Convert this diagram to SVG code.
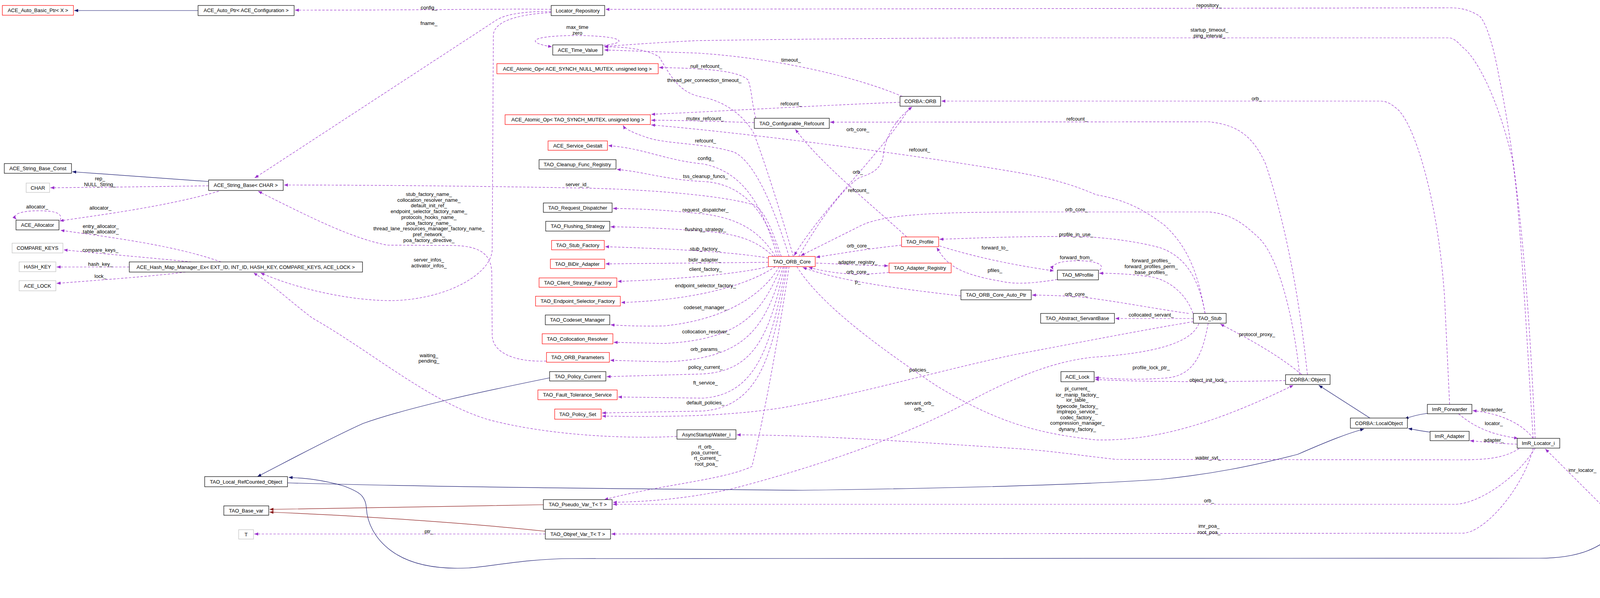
<svg xmlns="http://www.w3.org/2000/svg" width="4216" height="1532" viewBox="0 0 4216 1532">
<style>
text{font-family:"Liberation Sans",Arial,sans-serif;font-size:13px;fill:#000}
.n text{text-anchor:middle}
.l text{text-anchor:middle}
rect{fill:#fff;stroke:#000;stroke-width:1.2}
.r rect{stroke:#f00}
.g rect{stroke:#bfbfbf}
#n_ins rect{fill:#bfbfbf}
.u{fill:none;stroke:#9a32cd;stroke-width:1.2;stroke-dasharray:6,4;marker-end:url(#ap)}
.i{fill:none;stroke:#191970;stroke-width:1.2;marker-end:url(#an)}
.p{fill:none;stroke:#8b1a1a;stroke-width:1.2;marker-end:url(#ar)}
</style>
<defs>
<marker id="ap" viewBox="0 0 10 8" refX="10" refY="4" markerWidth="10" markerHeight="8" markerUnits="userSpaceOnUse" orient="auto"><path d="M0,0L10,4L0,8z" fill="#9a32cd"/></marker>
<marker id="an" viewBox="0 0 10 8" refX="10" refY="4" markerWidth="10" markerHeight="8" markerUnits="userSpaceOnUse" orient="auto"><path d="M0,0L10,4L0,8z" fill="#191970"/></marker>
<marker id="ar" viewBox="0 0 10 8" refX="10" refY="4" markerWidth="10" markerHeight="8" markerUnits="userSpaceOnUse" orient="auto"><path d="M0,0L10,4L0,8z" fill="#8b1a1a"/></marker>
</defs>
<rect x="0" y="0" width="4216" height="1532" style="fill:#fff;stroke:none"/>
<g id="edges">
<path class="i" d="M507,27 L190,27"/>
<path class="u" d="M1411,24 C1300,22 1100,26 755,26"/>
<path class="u" d="M1411,30 C1340,28 1290,38 1270,52 L652,456"/>
<path class="i" d="M534,465 L185,440"/>
<path class="u" d="M534,476 C400,478 250,480 129,481"/>
<path class="u" d="M560,490 C420,530 260,550 153,566"/>
<path class="u" d="M154,564 C160,550 150,540 100,540 C50,540 30,550 42,562"/>
<path class="u" d="M566,671 C450,630 300,610 155,590"/>
<path class="u" d="M490,671 C380,660 260,650 163,640"/>
<path class="u" d="M331,684 L145,684"/>
<path class="u" d="M475,697 C400,707 250,718 145,726"/>
<path class="u" d="M2000,657 C1980,600 1960,540 1930,525 C1850,500 1650,485 1500,482 C1300,478 1000,474 727,474"/>
<path class="u" d="M1399,925 C1320,928 1262,905 1260,860 L1259,700 C1258,660 1240,630 1161,629 L991,628 C900,610 800,560 661,490"/>
<path class="u" d="M1411,32 C1340,36 1265,50 1263,90 L1260,640 C1258,700 1150,765 1010,770 C900,772 760,740 667,699"/>
<path class="u" d="M1733,1118 C1600,1125 1400,1115 1250,1075 C1100,1030 950,900 800,815 C740,770 700,730 649,699"/>
<path class="u" d="M1935,303 C1925,270 1925,230 1915,205 C1890,180 1800,175 1687,173"/>
<path class="u" d="M2031,657 C2000,550 1960,420 1929,340 C1900,290 1850,260 1804,250 C1740,240 1720,200 1687,145 C1650,125 1600,120 1547,120"/>
<path class="u" d="M2310,247 C2200,200 2000,150 1786,136 L1547,128"/>
<path class="u" d="M1545,116 C1610,110 1600,92 1478,91 C1360,91 1340,108 1413,120"/>
<path class="u" d="M2304,262 C2100,270 1900,282 1667,293"/>
<path class="u" d="M1931,314 C1850,312 1750,308 1667,308"/>
<path class="u" d="M2020,657 C1990,560 1940,420 1880,390 C1800,365 1700,370 1650,350 C1620,340 1600,330 1595,321"/>
<path class="u" d="M3085,803 C3070,720 3050,640 2981,577 C2920,530 2870,510 2806,499 C2740,470 2680,455 2600,441 C2300,390 1900,340 1667,320"/>
<path class="u" d="M2045,657 C2100,560 2160,480 2200,455 C2250,440 2260,420 2262,390 C2270,340 2300,300 2335,274"/>
<path class="u" d="M2330,274 C2250,400 2100,540 2033,655"/>
<path class="u" d="M2321,607 C2250,540 2100,420 2036,331"/>
<path class="u" d="M1990,657 C1950,520 1900,440 1800,420 C1700,410 1650,380 1557,373"/>
<path class="u" d="M1995,657 C1960,540 1900,470 1800,465 C1700,460 1650,440 1579,434"/>
<path class="u" d="M1985,657 C1950,600 1900,560 1800,548 C1700,538 1650,535 1569,534"/>
<path class="u" d="M1980,657 C1940,620 1900,600 1800,592 C1700,585 1640,582 1563,581"/>
<path class="u" d="M1967,661 C1900,650 1800,640 1549,632"/>
<path class="u" d="M1967,672 L1550,676"/>
<path class="u" d="M1967,683 C1900,700 1750,715 1581,721"/>
<path class="u" d="M1985,683 C1900,740 1750,770 1590,775"/>
<path class="u" d="M1995,683 C1950,760 1850,820 1700,835 C1650,836 1600,835 1563,832"/>
<path class="u" d="M2000,683 C1950,800 1900,870 1700,880 L1571,877"/>
<path class="u" d="M2005,683 C1960,830 1920,920 1700,927 L1562,923"/>
<path class="u" d="M2008,683 C1970,860 1930,950 1800,958 L1553,965"/>
<path class="u" d="M2012,683 C1975,880 1940,1010 1800,1020 L1582,1017"/>
<path class="u" d="M2015,683 C1980,900 1950,1040 1800,1053 L1541,1058"/>
<path class="u" d="M2020,683 C1995,850 1960,1050 1925,1195 C1850,1230 1700,1240 1547,1280"/>
<path class="u" d="M3055,824 C2900,850 2750,880 2600,908 C2400,950 2200,1010 2000,1045 C1850,1068 1700,1068 1541,1066"/>
<path class="u" d="M2040,683 C2100,780 2250,890 2400,990 C2550,1080 2650,1110 2806,1127 C2950,1130 3100,1090 3311,987"/>
<path class="u" d="M3069,829 C3050,880 2950,905 2800,915 C2700,925 2600,965 2482,1028 C2350,1100 2150,1180 1875,1252 C1750,1280 1650,1285 1569,1287"/>
<path class="u" d="M3930,1148 C3880,1230 3780,1292 3724,1292 L1569,1292"/>
<path class="u" d="M3925,1148 C3900,1250 3800,1366 3744,1366 L1565,1368"/>
<path class="u" d="M1396,1368 L651,1368"/>
<path class="p" d="M1396,1361 C1200,1340 900,1320 690,1312"/>
<path class="p" d="M1391,1293 C1200,1296 900,1302 690,1305"/>
<path class="i" d="M4141,1361 C4100,1400 4050,1430 3940,1430 L1464,1431 C1350,1431 1250,1452 1200,1455 C1100,1460 1040,1440 1000,1410 C960,1380 940,1340 938,1302 C936,1270 920,1260 880,1245 C820,1228 780,1225 739,1223"/>
<path class="i" d="M736,1237 C1000,1245 1400,1251 2054,1256 C2500,1250 2800,1240 2971,1228 C3100,1215 3200,1195 3322,1164 C3400,1130 3450,1110 3492,1099"/>
<path class="i" d="M1407,968 C1250,1000 1054,1041 929,1085 C830,1130 720,1190 659,1221"/>
<path class="i" d="M3507,1071 L3376,987"/>
<path class="i" d="M3654,1059 C3630,1062 3610,1068 3596,1073"/>
<path class="i" d="M3661,1107 C3640,1105 3620,1100 3605,1098"/>
<path class="u" d="M3925,1123 C3900,1090 3850,1060 3770,1052"/>
<path class="u" d="M3734,1060 C3780,1100 3830,1115 3886,1123"/>
<path class="u" d="M3884,1138 C3830,1136 3800,1132 3763,1129"/>
<path class="u" d="M4141,1335 L3956,1150"/>
<path class="u" d="M3889,1149 C3850,1175 3800,1178 3734,1178 L2858,1177 C2750,1165 2700,1156 2600,1149 C2300,1130 2100,1115 1886,1114"/>
<path class="u" d="M3930,1123 C3920,900 3900,500 3837,194 C3820,100 3800,50 3786,40 C3760,25 3740,20 3713,20 L1550,24"/>
<path class="u" d="M3925,1123 C3910,900 3890,500 3870,400 C3820,200 3760,130 3744,121 C3730,105 3720,97 3708,97 L2650,97 C2200,97 1800,104 1786,104 C1700,108 1600,115 1547,119"/>
<path class="u" d="M3711,1036 L3698,760 C3680,500 3620,320 3579,281 C3560,265 3550,259 3533,259 L2410,259"/>
<path class="u" d="M3347,960 C3330,800 3300,600 3240,420 C3208,350 3170,320 3095,312 L2125,313"/>
<path class="u" d="M3327,960 C3310,800 3270,650 3219,606 C3180,570 3150,548 3095,543 L2650,543 C2400,543 2259,548 2200,580 C2120,620 2080,640 2050,655"/>
<path class="u" d="M2308,628 C2200,640 2150,650 2089,659"/>
<path class="u" d="M2089,674 C2150,676 2200,680 2274,681"/>
<path class="u" d="M2276,698 C2200,705 2150,705 2070,685"/>
<path class="u" d="M2460,758 C2300,740 2150,720 2055,685"/>
<path class="u" d="M3043,803 C2950,790 2850,770 2760,760 C2700,757 2670,756 2642,756"/>
<path class="u" d="M3085,803 C3070,720 3040,660 2971,635 C2900,615 2800,606 2755,606 C2600,605 2500,610 2405,613"/>
<path class="u" d="M2707,716 C2650,725 2600,730 2560,720 C2440,700 2420,670 2398,634"/>
<path class="u" d="M2405,630 C2500,660 2600,680 2698,694"/>
<path class="u" d="M2815,692 C2830,680 2810,668 2760,668 C2710,668 2690,678 2696,691"/>
<path class="u" d="M3054,803 C3040,760 3000,720 2950,710 C2900,702 2850,700 2814,700"/>
<path class="u" d="M3055,816 L2855,816"/>
<path class="u" d="M3093,828 C3080,900 3060,960 2990,968 C2900,975 2850,970 2803,967"/>
<path class="u" d="M3291,975 C3150,978 2950,980 2803,972"/>
<path class="u" d="M3332,959 C3260,900 3180,860 3124,830"/>
</g>
<g class="l">
<text x="1098" y="24">config_</text>
<text x="1098" y="64">fname_</text>
<text x="256" y="462">rep_</text><text x="256" y="477">NULL_String_</text>
<text x="257" y="537">allocator_</text>
<text x="95" y="534">allocator_</text>
<text x="258" y="584">entry_allocator_</text><text x="258" y="598">table_allocator_</text>
<text x="257" y="645">compare_keys_</text>
<text x="257" y="681">hash_key_</text>
<text x="257" y="712">lock_</text>
<text x="1478" y="477">server_id_</text>
<text x="1098" y="502">stub_factory_name_</text>
<text x="1098" y="517">collocation_resolver_name_</text>
<text x="1098" y="531">default_init_ref_</text>
<text x="1098" y="546">endpoint_selector_factory_name_</text>
<text x="1098" y="561">protocols_hooks_name_</text>
<text x="1098" y="576">poa_factory_name_</text>
<text x="1098" y="590">thread_lane_resources_manager_factory_name_</text>
<text x="1098" y="605">pref_network_</text>
<text x="1098" y="620">poa_factory_directive_</text>
<text x="1098" y="670">server_infos_</text><text x="1098" y="685">activator_infos_</text>
<text x="1098" y="915">waiting_</text><text x="1098" y="929">pending_</text>
<text x="1808" y="174">null_refcount_</text>
<text x="1803" y="210">thread_per_connection_timeout_</text>
<text x="2025" y="158">timeout_</text>
<text x="1478" y="74">max_time</text><text x="1478" y="89">zero</text>
<text x="2025" y="270">refcount_</text>
<text x="1805" y="308">mutex_refcount_</text>
<text x="1806" y="365">refcount_</text>
<text x="2354" y="388">refcount_</text>
<text x="2196" y="445">orb_</text>
<text x="2196" y="336">orb_core_</text>
<text x="2198" y="492">refcount_</text>
<text x="1807" y="410">config_</text>
<text x="1806" y="456">tss_cleanup_funcs_</text>
<text x="1806" y="542">request_dispatcher_</text>
<text x="1806" y="592">flushing_strategy_</text>
<text x="1805" y="642">stub_factory_</text>
<text x="1804" y="670">bidir_adapter_</text>
<text x="1806" y="694">client_factory_</text>
<text x="1806" y="736">endpoint_selector_factory_</text>
<text x="1806" y="792">codeset_manager_</text>
<text x="1807" y="854">collocation_resolver_</text>
<text x="1806" y="899">orb_params_</text>
<text x="1806" y="945">policy_current_</text>
<text x="1806" y="985">ft_service_</text>
<text x="1806" y="1036">default_policies_</text>
<text x="1808" y="1149">rt_orb_</text><text x="1808" y="1164">poa_current_</text><text x="1808" y="1178">rt_current_</text><text x="1808" y="1193">root_poa_</text>
<text x="2353" y="952">policies_</text>
<text x="2758" y="1000">pi_current_</text><text x="2758" y="1016">ior_manip_factory_</text><text x="2758" y="1029">ior_table_</text><text x="2758" y="1045">typecode_factory_</text><text x="2758" y="1059">implrepo_service_</text><text x="2758" y="1074">codec_factory_</text><text x="2758" y="1088">compression_manager_</text><text x="2758" y="1104">dynany_factory_</text>
<text x="2353" y="1037">servant_orb_</text><text x="2353" y="1052">orb_</text>
<text x="3095" y="1287">orb_</text>
<text x="3095" y="1352">imr_poa_</text><text x="3095" y="1368">root_poa_</text>
<text x="1098" y="1366">ptr_</text>
<text x="3823" y="1054">forwarder_</text>
<text x="3824" y="1089">locator_</text>
<text x="3824" y="1132">adapter_</text>
<text x="4051" y="1209">imr_locator_</text>
<text x="3093" y="1177">waiter_svt_</text>
<text x="3095" y="18">repository_</text>
<text x="3096" y="81">startup_timeout_</text><text x="3096" y="96">ping_interval_</text>
<text x="3217" y="257">orb_</text>
<text x="2757" y="309">refcount_</text>
<text x="2756" y="541">orb_core_</text>
<text x="2197" y="634">orb_core_</text>
<text x="2196" y="676">adapter_registry_</text>
<text x="2196" y="701">orb_core_</text>
<text x="2196" y="726">p_</text>
<text x="2755" y="758">orb_core_</text>
<text x="2755" y="605">profile_in_use_</text>
<text x="2547" y="697">pfiles_</text>
<text x="2547" y="639">forward_to_</text>
<text x="2755" y="664">forward_from_</text>
<text x="2947" y="672">forward_profiles_</text><text x="2947" y="687">forward_profiles_perm_</text><text x="2947" y="702">base_profiles_</text>
<text x="2947" y="811">collocated_servant_</text>
<text x="2947" y="946">profile_lock_ptr_</text>
<text x="3093" y="978">object_init_lock_</text>
<text x="3218" y="861">protocol_proxy_</text>
</g>
<g class="n r" id="n_auto_basic"><rect x="6" y="14" width="182" height="25"/><text x="97" y="31">ACE_Auto_Basic_Ptr&lt; X &gt;</text></g>
<g class="n" id="n_auto_ptr"><rect x="507" y="14" width="246" height="26"/><text x="630" y="31">ACE_Auto_Ptr&lt; ACE_Configuration &gt;</text></g>
<g class="n" id="n_sbc"><rect x="11" y="419" width="172" height="25"/><text x="97" y="436">ACE_String_Base_Const</text></g>
<g class="n" id="n_sb"><rect x="534" y="461" width="191" height="27"/><text x="629" y="479">ACE_String_Base&lt; CHAR &gt;</text></g>
<g class="n g" id="n_char"><rect x="67" y="469" width="60" height="24"/><text x="97" y="486">CHAR</text></g>
<g class="n" id="n_alloc"><rect x="41" y="564" width="110" height="25"/><text x="96" y="581">ACE_Allocator</text></g>
<g class="n g" id="n_ck"><rect x="31" y="623" width="130" height="25"/><text x="96" y="640">COMPARE_KEYS</text></g>
<g class="n g" id="n_hk"><rect x="49" y="671" width="94" height="25"/><text x="96" y="688">HASH_KEY</text></g>
<g class="n g" id="n_lock"><rect x="49" y="719" width="94" height="26"/><text x="96" y="737">ACE_LOCK</text></g>
<g class="n" id="n_hash"><rect x="331" y="671" width="597" height="26"/><text x="629" y="689">ACE_Hash_Map_Manager_Ex&lt; EXT_ID, INT_ID, HASH_KEY, COMPARE_KEYS, ACE_LOCK &gt;</text></g>
<g class="n" id="n_lrco"><rect x="524" y="1221" width="212" height="26"/><text x="630" y="1239">TAO_Local_RefCounted_Object</text></g>
<g class="n" id="n_basevar"><rect x="573" y="1296" width="115" height="24"/><text x="630" y="1313">TAO_Base_var</text></g>
<g class="n g" id="n_T"><rect x="611" y="1357" width="38" height="24"/><text x="630" y="1374">T</text></g>
<g class="n" id="n_locrep"><rect x="1411" y="14" width="137" height="26"/><text x="1479" y="32">Locator_Repository</text></g>
<g class="n" id="n_time"><rect x="1415" y="115" width="128" height="26"/><text x="1479" y="133">ACE_Time_Value</text></g>
<g class="n r" id="n_aonull"><rect x="1272" y="163" width="413" height="26"/><text x="1478" y="181">ACE_Atomic_Op&lt; ACE_SYNCH_NULL_MUTEX, unsigned long &gt;</text></g>
<g class="n r" id="n_aotao"><rect x="1293" y="294" width="372" height="25"/><text x="1479" y="311">ACE_Atomic_Op&lt; TAO_SYNCH_MUTEX, unsigned long &gt;</text></g>
<g class="n" id="n_orb"><rect x="2304" y="247" width="104" height="25"/><text x="2356" y="264">CORBA::ORB</text></g>
<g class="n" id="n_confref"><rect x="1931" y="303" width="192" height="26"/><text x="2027" y="321">TAO_Configurable_Refcount</text></g>
<g class="n r" id="n_gestalt"><rect x="1403" y="361" width="152" height="24"/><text x="1479" y="378">ACE_Service_Gestalt</text></g>
<g class="n" id="n_cleanup"><rect x="1380" y="409" width="197" height="24"/><text x="1478" y="426">TAO_Cleanup_Func_Registry</text></g>
<g class="n" id="n_reqdisp"><rect x="1391" y="520" width="176" height="24"/><text x="1479" y="537">TAO_Request_Dispatcher</text></g>
<g class="n" id="n_flush"><rect x="1397" y="567" width="164" height="25"/><text x="1479" y="584">TAO_Flushing_Strategy</text></g>
<g class="n r" id="n_stubfac"><rect x="1412" y="616" width="135" height="24"/><text x="1479" y="633">TAO_Stub_Factory</text></g>
<g class="n r" id="n_bidir"><rect x="1409" y="664" width="139" height="24"/><text x="1478" y="681">TAO_BiDir_Adapter</text></g>
<g class="n r" id="n_client"><rect x="1380" y="712" width="199" height="24"/><text x="1479" y="729">TAO_Client_Strategy_Factory</text></g>
<g class="n r" id="n_orbcore"><rect x="1967" y="657" width="120" height="26"/><text x="2027" y="675">TAO_ORB_Core</text></g>
<g class="n r" id="n_profile"><rect x="2308" y="607" width="95" height="25"/><text x="2355" y="624">TAO_Profile</text></g>
<g class="n r" id="n_adreg"><rect x="2276" y="674" width="159" height="25"/><text x="2355" y="691">TAO_Adapter_Registry</text></g>
<g class="n" id="n_autoptr"><rect x="2460" y="743" width="180" height="25"/><text x="2550" y="760">TAO_ORB_Core_Auto_Ptr</text></g>
<g class="n r" id="n_endpoint"><rect x="1371" y="759" width="217" height="25"/><text x="1479" y="776">TAO_Endpoint_Selector_Factory</text></g>
<g class="n" id="n_codeset"><rect x="1396" y="807" width="165" height="25"/><text x="1478" y="824">TAO_Codeset_Manager</text></g>
<g class="n r" id="n_colloc"><rect x="1388" y="855" width="181" height="26"/><text x="1478" y="873">TAO_Collocation_Resolver</text></g>
<g class="n r" id="n_orbparams"><rect x="1399" y="903" width="161" height="25"/><text x="1479" y="920">TAO_ORB_Parameters</text></g>
<g class="n" id="n_polcur"><rect x="1407" y="952" width="144" height="24"/><text x="1479" y="969">TAO_Policy_Current</text></g>
<g class="n r" id="n_ft"><rect x="1377" y="999" width="203" height="25"/><text x="1478" y="1016">TAO_Fault_Tolerance_Service</text></g>
<g class="n r" id="n_polset"><rect x="1420" y="1048" width="119" height="26"/><text x="1479" y="1066">TAO_Policy_Set</text></g>
<g class="n" id="n_async"><rect x="1733" y="1101" width="151" height="24"/><text x="1808" y="1118">AsyncStartupWaiter_i</text></g>
<g class="n" id="n_pseudo"><rect x="1391" y="1280" width="176" height="25"/><text x="1479" y="1297">TAO_Pseudo_Var_T&lt; T &gt;</text></g>
<g class="n" id="n_objref"><rect x="1396" y="1356" width="167" height="25"/><text x="1479" y="1373">TAO_Objref_Var_T&lt; T &gt;</text></g>
<g class="n" id="n_asb"><rect x="2664" y="803" width="189" height="25"/><text x="2758" y="820">TAO_Abstract_ServantBase</text></g>
<g class="n" id="n_stub"><rect x="3055" y="803" width="84" height="25"/><text x="3097" y="820">TAO_Stub</text></g>
<g class="n" id="n_mprof"><rect x="2707" y="692" width="105" height="25"/><text x="2759" y="709">TAO_MProfile</text></g>
<g class="n" id="n_acelock"><rect x="2716" y="952" width="85" height="26"/><text x="2758" y="970">ACE_Lock</text></g>
<g class="n" id="n_obj"><rect x="3291" y="960" width="114" height="25"/><text x="3348" y="977">CORBA::Object</text></g>
<g class="n" id="n_lobj"><rect x="3457" y="1071" width="146" height="26"/><text x="3530" y="1089">CORBA::LocalObject</text></g>
<g class="n" id="n_fwd"><rect x="3654" y="1036" width="114" height="24"/><text x="3711" y="1053">ImR_Forwarder</text></g>
<g class="n" id="n_adapter"><rect x="3661" y="1105" width="100" height="24"/><text x="3711" y="1122">ImR_Adapter</text></g>
<g class="n" id="n_loc"><rect x="3884" y="1123" width="109" height="25"/><text x="3938" y="1140">ImR_Locator_i</text></g>
<g class="n" id="n_ins"><rect x="4115" y="1335" width="96" height="26"/><text x="4163" y="1353">INS_Locator</text></g>
</svg>
